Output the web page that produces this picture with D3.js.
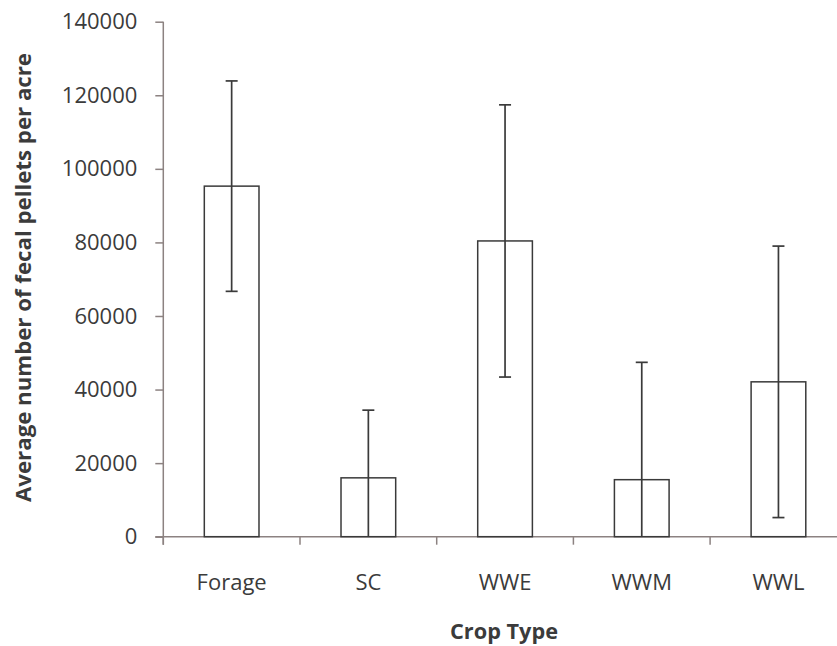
<!DOCTYPE html>
<html>
<head>
<meta charset="utf-8">
<script src="https://cdn.jsdelivr.net/npm/d3@7"></script>
<style>
  html, body { margin: 0; padding: 0; background: #fff; }
  svg { display: block; }
  text { font-family: "Open Sans", "DejaVu Sans", sans-serif; fill: #3b3b3b; }
</style>
</head>
<body>
<svg id="chart" width="837" height="646"></svg>
<script>
const categories = ["Forage", "SC", "WWE", "WWM", "WWL"];
const means = [95300, 16000, 80400, 15500, 42100];
const errors = [28600, 18400, 37000, 31900, 36900];
const yTicks = [0, 20000, 40000, 60000, 80000, 100000, 120000, 140000];
const yTitle = "Average number of fecal pellets per acre";
const xTitle = "Crop Type";

const data = categories.map((c, i) => ({ cat: c, mean: means[i], err: errors[i] }));

const svg = d3.select("#chart");
const axisColor = "#8c8281";
const markColor = "#3a3a3a";

const x0 = 163.3, yBase = 536.7, yTop = 21.7;
const step = 136.7;
const x = d3.scaleBand().domain(categories)
  .range([x0, x0 + step * categories.length])
  .paddingInner(0.6).paddingOuter(0.3);
const y = d3.scaleLinear().domain([0, 140000]).range([yBase, yTop]).clamp(true);

// Y axis
const yAxis = svg.append("g").attr("transform", `translate(${x0},0)`)
  .call(d3.axisLeft(y).tickValues(yTicks).tickSize(8).tickSizeOuter(0).tickPadding(18).tickFormat(d3.format("d")));
yAxis.select(".domain").attr("stroke", axisColor).attr("stroke-width", 1.5)
  .attr("d", `M0,${yTop}V${yBase + 8}`);
yAxis.selectAll(".tick line").attr("stroke", axisColor).attr("stroke-width", 1.5);
yAxis.selectAll(".tick text").style("font-size", "22px").attr("fill", "#3b3b3b")
  .style("font-family", "'Open Sans', sans-serif");

// X axis
const xAxis = svg.append("g").attr("transform", `translate(0,${yBase})`)
  .call(d3.axisBottom(x).tickSize(0).tickPadding(38));
xAxis.select(".domain").attr("stroke", axisColor).attr("stroke-width", 1.5)
  .attr("d", `M${x0 - 8},0H837`);
xAxis.selectAll(".tick text").style("font-size", "22px").attr("fill", "#3b3b3b")
  .style("font-family", "'Open Sans', sans-serif");
// category boundary tick marks
const boundaries = d3.range(categories.length).map(i => x0 + i * x.step());
svg.append("g").selectAll("line").data(boundaries).join("line")
  .attr("x1", d => d).attr("x2", d => d)
  .attr("y1", yBase).attr("y2", yBase + 8)
  .attr("stroke", axisColor).attr("stroke-width", 1.5);

// Bars
svg.append("g").selectAll("rect").data(data).join("rect")
  .attr("x", d => x(d.cat))
  .attr("y", d => y(d.mean))
  .attr("width", x.bandwidth())
  .attr("height", d => y(0) - y(d.mean))
  .attr("fill", "#fff")
  .attr("stroke", markColor)
  .attr("stroke-width", 1.5);

// Error bars
const eb = svg.append("g").selectAll("g").data(data).join("g")
  .attr("transform", d => `translate(${x(d.cat) + x.bandwidth() / 2},0)`);
eb.append("line")
  .attr("x1", 0).attr("x2", 0)
  .attr("y1", d => y(d.mean + d.err))
  .attr("y2", d => y(d.mean - d.err))
  .attr("stroke", markColor).attr("stroke-width", 1.7);
eb.append("line")
  .attr("x1", -6).attr("x2", 6)
  .attr("y1", d => y(d.mean + d.err)).attr("y2", d => y(d.mean + d.err))
  .attr("stroke", markColor).attr("stroke-width", 1.7);
eb.filter(d => d.mean - d.err > 0).append("line")
  .attr("x1", -6).attr("x2", 6)
  .attr("y1", d => y(d.mean - d.err)).attr("y2", d => y(d.mean - d.err))
  .attr("stroke", markColor).attr("stroke-width", 1.7);

// Axis titles
svg.append("text")
  .attr("transform", `translate(31,277.5) rotate(-90)`)
  .attr("text-anchor", "middle")
  .style("font-size", "22px").style("font-weight", "bold")
  .attr("textLength", 449).attr("lengthAdjust", "spacingAndGlyphs")
  .text(yTitle);
svg.append("text")
  .attr("x", 504).attr("y", 639)
  .attr("text-anchor", "middle")
  .style("font-size", "22px").style("font-weight", "bold")
  .attr("textLength", 108).attr("lengthAdjust", "spacingAndGlyphs")
  .text(xTitle);
</script>
</body>
</html>
